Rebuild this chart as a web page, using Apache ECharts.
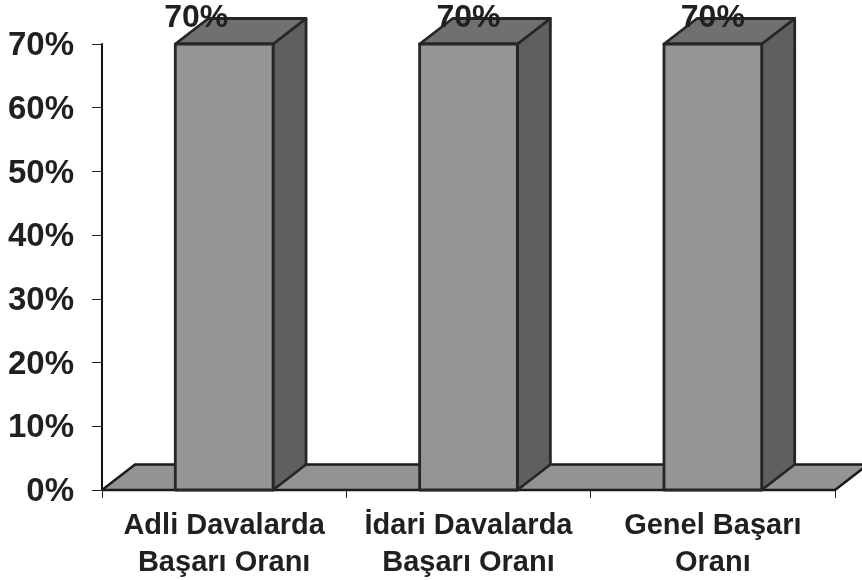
<!DOCTYPE html>
<html><head><meta charset="utf-8">
<style>html,body{margin:0;padding:0;background:#fff}#c{width:862px;height:580px}</style>
<script src="https://cdn.jsdelivr.net/npm/echarts@6/dist/echarts.min.js"></script>
</head><body><div id="c"></div>
<script>
const categories = ['Adli Davalarda\nBaşarı Oranı', 'İdari Davalarda\nBaşarı Oranı', 'Genel Başarı\nOranı'];
const values = [70, 70, 70];
const yMax = 70, yStep = 10;

const FONT = '"Liberation Sans", Arial, sans-serif';
const INK = '#231f20', EDGE = '#262626';
const DX = 33, DY = 25.5;
const labelShift = [-28, 0, 0];

const chart = echarts.init(document.getElementById('c'), null, {renderer: 'canvas'});

function poly(points, fill, stroke, w) {
  return {type: 'polygon', shape: {points}, style: {fill, stroke, lineWidth: w, lineJoin: 'round'}};
}

function renderFloor(params) {
  const r = params.coordSys, b = r.y + r.height, L = r.x, R = r.x + r.width;
  return {type: 'group', children: [
    poly([[L, b], [L + DX, b - DY], [R + DX, b - DY], [R, b]], '#939393', 'transparent', 0),
    {type: 'polyline', shape: {points: [[L, b], [L + DX, b - DY], [R + DX, b - DY], [R, b]]},
     style: {fill: null, stroke: '#1a1a1a', lineWidth: 2.4}},
    {type: 'line', shape: {x1: L, y1: b, x2: R, y2: b}, style: {stroke: '#1a1a1a', lineWidth: 2.4}}
  ]};
}

function renderBar(params, api) {
  const c = api.coord([api.value(0), api.value(1)]);
  const base = api.coord([api.value(0), 0]);
  const w = api.size([1, 0])[0] * 0.4;
  const l = c[0] - w / 2, r = c[0] + w / 2, t = c[1], b = base[1];
  return {type: 'group', children: [
    poly([[r, t], [r + DX, t - DY], [r + DX, b - DY], [r, b]], '#5f5f5f', EDGE, 2.8),
    poly([[l, t], [l + DX, t - DY], [r + DX, t - DY], [r, t]], '#707070', EDGE, 2.8),
    poly([[l, t], [r, t], [r, b], [l, b]], '#959595', EDGE, 2.8),
    {type: 'text', z2: 10, style: {
      text: api.value(1) + '%', x: c[0] + labelShift[params.dataIndex], y: t - 26,
      align: 'center', verticalAlign: 'middle',
      font: 'bold 32px ' + FONT, fill: INK
    }}
  ]};
}

chart.setOption({
  animation: false,
  backgroundColor: '#fff',
  grid: {left: 102, right: 27, top: 44, bottom: 90, containLabel: false, outerBoundsMode: 'none'},
  xAxis: {
    type: 'category', data: categories, boundaryGap: true,
    axisLine: {show: false},
    axisTick: {show: true, alignWithLabel: false, length: 8, lineStyle: {color: '#222', width: 1}},
    axisLabel: {color: INK, fontFamily: FONT, fontWeight: 'bold', fontSize: 29, lineHeight: 37, margin: 17, interval: 0}
  },
  yAxis: {
    type: 'value', min: 0, max: yMax, interval: yStep,
    axisLine: {show: true, lineStyle: {color: '#111', width: 2}},
    axisTick: {show: true, length: 10, lineStyle: {color: '#222', width: 1}},
    splitLine: {show: false},
    axisLabel: {
      formatter: '{a|{value}%}', margin: 28,
      rich: {a: {color: INK, fontFamily: FONT, fontWeight: 'bold', fontSize: 33, padding: [4, 0, 0, 0]}}
    }
  },
  series: [
    {type: 'custom', coordinateSystem: 'cartesian2d', data: [[0, 0]], renderItem: renderFloor, z: 1, silent: true, clip: false},
    {type: 'custom', coordinateSystem: 'cartesian2d',
     data: values.map((v, i) => [i, v]), encode: {x: 0, y: 1}, renderItem: renderBar, z: 2, silent: true, clip: false}
  ]
});
</script></body></html>
